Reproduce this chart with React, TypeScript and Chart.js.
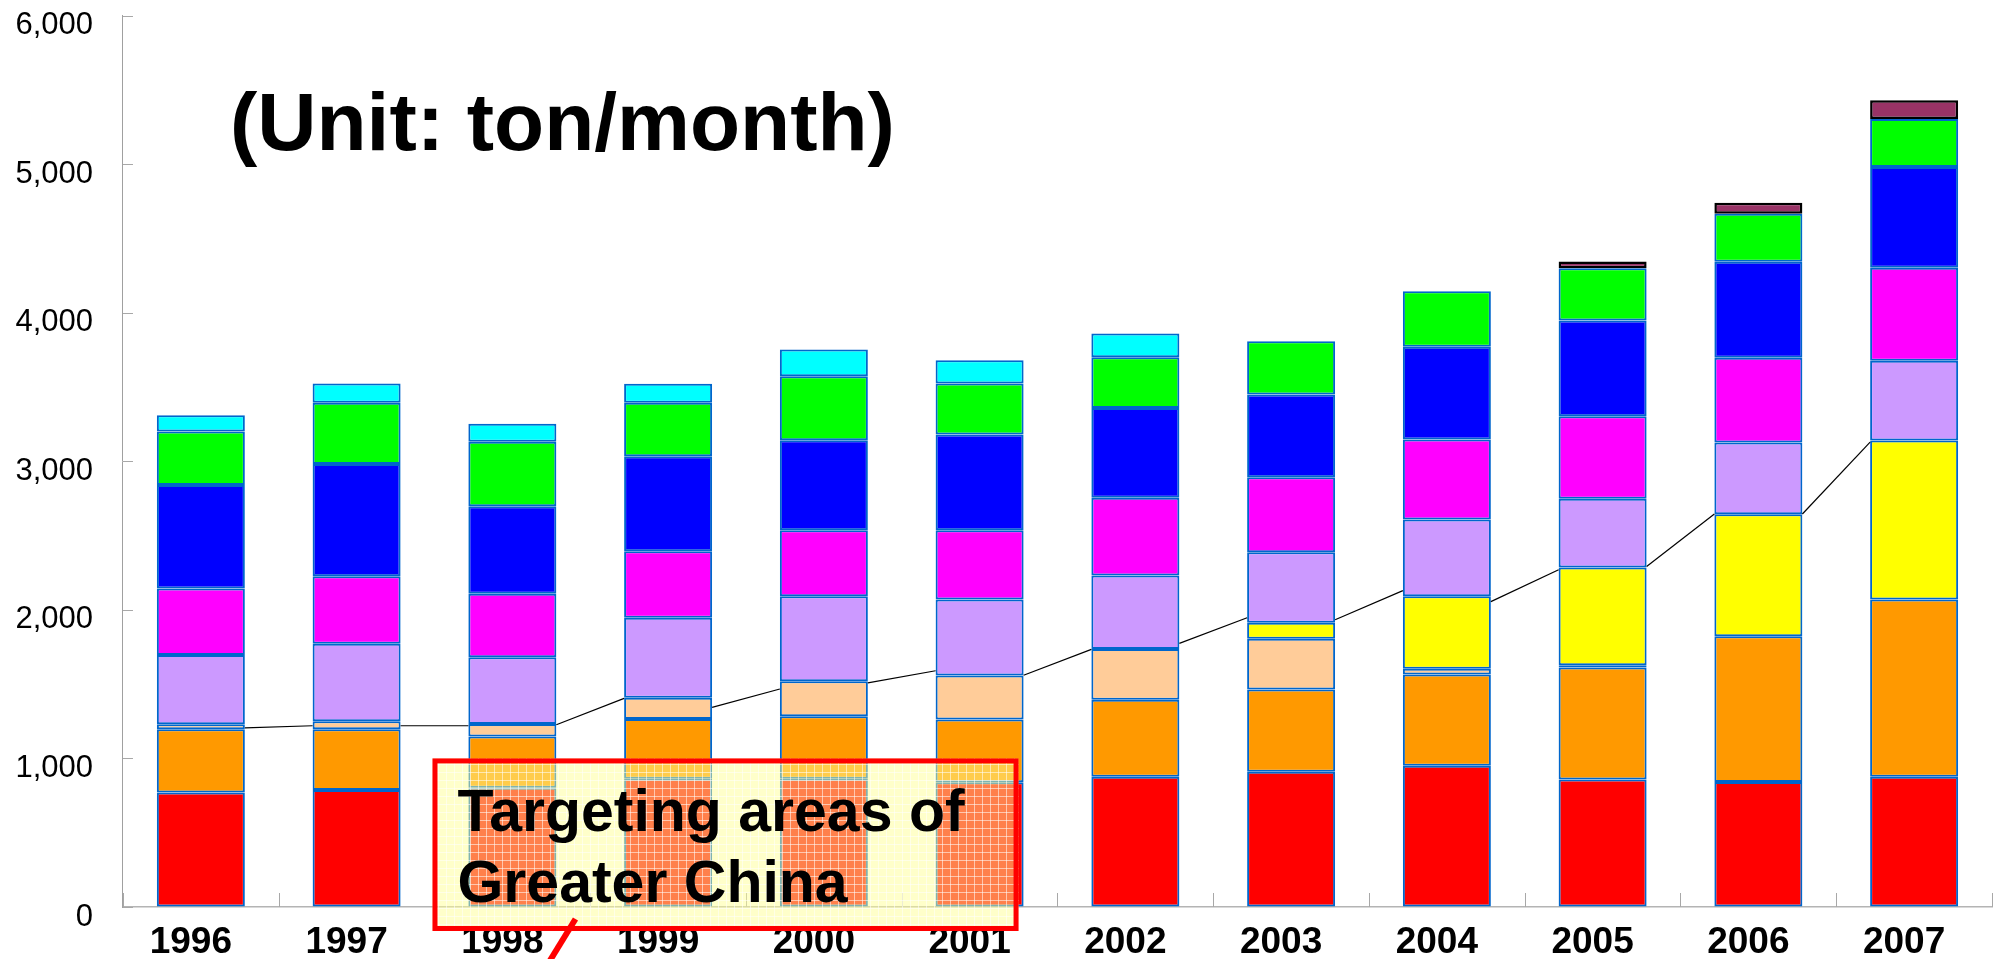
import React, { useEffect, useRef } from 'react';
import { Chart, registerables } from 'chart.js';

Chart.register(...registerables);

const FONT = '"Liberation Sans", Arial, Helvetica, sans-serif';

const years = ['1996', '1997', '1998', '1999', '2000', '2001', '2002', '2003', '2004', '2005', '2006', '2007'];

const redVals = [770, 788, 802, 863, 863, 840, 876, 910, 950, 858, 842, 876];
const orangeVals = [427, 409, 345, 402, 421, 422, 518, 554, 615, 754, 980, 1193];
const peachVals = [33, 53, 84, 143, 236, 296, 342, 341, 38, 15, null, null];
const yellowVals = [null, null, null, null, null, null, null, 108, 489, 658, 821, 1070];
const lavenderVals = [466, 521, 450, 538, 572, 511, 495, 475, 516, 462, 484, 538];
const magentaVals = [448, 455, 427, 448, 444, 467, 523, 505, 538, 556, 569, 625];
const blueVals = [696, 756, 589, 640, 605, 644, 605, 556, 624, 644, 647, 679];
const greenVals = [360, 411, 434, 359, 431, 343, 341, 359, 374, 352, 322, 323];
const cyanVals = [110, 130, 121, 128, 180, 157, 159, null, null, null, null, null];
const maroonVals = [null, null, null, null, null, null, null, null, null, 45, 74, 125];

// thin black connector line: value at right edge of bar i -> value at left edge of bar i+1
const connectorFrom = [1205, 1220, 1227, 1344, 1508, 1560, 1774, 1933, 2055, 2292, 2645];
const connectorTo = [1220, 1220, 1404, 1467, 1590, 1734, 1947, 2129, 2270, 2645, 3129];

const yTicks = [0, 1000, 2000, 3000, 4000, 5000, 6000];

const unitText = '(Unit: ton/month)';
const noteLines = ['Targeting areas of', 'Greater China'];

const seriesDefs = [
  { label: 'red', data: redVals, color: '#FF0000', border: '#0066CC' },
  { label: 'orange', data: orangeVals, color: '#FF9900', border: '#0066CC' },
  { label: 'peach', data: peachVals, color: '#FFCC99', border: '#0066CC' },
  { label: 'yellow', data: yellowVals, color: '#FFFF00', border: '#0066CC' },
  { label: 'lavender', data: lavenderVals, color: '#CC99FF', border: '#0066CC' },
  { label: 'magenta', data: magentaVals, color: '#FF00FF', border: '#0066CC' },
  { label: 'blue', data: blueVals, color: '#0000FF', border: '#0066CC' },
  { label: 'green', data: greenVals, color: '#00FF00', border: '#0066CC' },
  { label: 'cyan', data: cyanVals, color: '#00FFFF', border: '#0066CC' },
  { label: 'maroon', data: maroonVals, color: '#993366', border: '#000000' },
];

const overlayPlugin = {
  id: 'overlay',
  beforeDatasetsDraw(chart: any) {
    // inward tick marks (Excel style)
    const { ctx, chartArea } = chart;
    const xs = chart.scales.x;
    const ys = chart.scales.y;
    ctx.save();
    ctx.strokeStyle = '#A8A8A8';
    ctx.lineWidth = 1;
    ctx.beginPath();
    ys.ticks.forEach((t: any) => {
      const py = Math.round(ys.getPixelForValue(t.value)) + 0.5;
      ctx.moveTo(chartArea.left, py);
      ctx.lineTo(chartArea.left + 10, py);
    });
    for (let i = 0; i <= years.length; i++) {
      const px = Math.round(xs.getPixelForValue(i - 0.5)) + 0.5;
      ctx.moveTo(px, chartArea.bottom);
      ctx.lineTo(px, chartArea.bottom - 14);
    }
    ctx.stroke();
    ctx.restore();
  },
  afterDatasetsDraw(chart: any) {
    const ctx = chart.ctx;
    const y = chart.scales.y;
    const meta = chart.getDatasetMeta(0);
    ctx.save();
    ctx.strokeStyle = '#000000';
    ctx.lineWidth = 1.2;
    for (let i = 0; i < connectorFrom.length; i++) {
      const a = meta.data[i];
      const b = meta.data[i + 1];
      if (!a || !b) continue;
      const x1 = a.x + a.width / 2;
      const x2 = b.x - b.width / 2;
      ctx.beginPath();
      ctx.moveTo(x1, y.getPixelForValue(connectorFrom[i]));
      ctx.lineTo(x2, y.getPixelForValue(connectorTo[i]));
      ctx.stroke();
    }
    ctx.restore();
  },
  afterDraw(chart: any) {
    const ctx = chart.ctx;
    const xs = chart.scales.x;
    const ys = chart.scales.y;
    ctx.save();
    // unit title
    ctx.fillStyle = '#000000';
    ctx.textAlign = 'left';
    ctx.textBaseline = 'alphabetic';
    ctx.font = `bold 82px ${FONT}`;
    ctx.fillText(unitText, 230, 150);

    // annotation box
    const left = xs.getPixelForValue(1.5) - 2;
    const right = xs.getPixelForValue(5.25);
    const top = ys.getPixelForValue(1000);
    const bottom = chart.height - 28;
    ctx.fillStyle = 'rgba(255,255,150,0.5)';
    ctx.fillRect(left, top, right - left, bottom - top);
    ctx.strokeStyle = 'rgba(255,255,255,0.55)';
    ctx.lineWidth = 1;
    ctx.beginPath();
    for (let gx = left + 6; gx < right; gx += 8) {
      ctx.moveTo(Math.round(gx) + 0.5, top);
      ctx.lineTo(Math.round(gx) + 0.5, bottom);
    }
    for (let gy = top + 6; gy < bottom; gy += 8) {
      ctx.moveTo(left, Math.round(gy) + 0.5);
      ctx.lineTo(right, Math.round(gy) + 0.5);
    }
    ctx.stroke();
    ctx.strokeStyle = '#FF0000';
    ctx.lineWidth = 5;
    ctx.strokeRect(left + 2.5, top + 2.5, right - left - 5, bottom - top - 5);

    ctx.fillStyle = '#000000';
    ctx.font = `bold 59px ${FONT}`;
    ctx.fillText(noteLines[0], left + 25, top + 73);
    ctx.fillText(noteLines[1], left + 25, top + 144);

    // callout stroke below the box
    ctx.strokeStyle = '#FF0000';
    ctx.lineWidth = 6;
    ctx.beginPath();
    ctx.moveTo(left + 143, bottom - 12);
    ctx.lineTo(left + 116, chart.height + 4);
    ctx.stroke();
    ctx.restore();
  },
};

export default function App() {
  const canvasRef = useRef<HTMLCanvasElement>(null);

  useEffect(() => {
    document.body.style.margin = '0';
    const canvas = canvasRef.current;
    if (!canvas) return;
    const chart = new Chart(canvas, {
      type: 'bar',
      data: {
        labels: years,
        datasets: seriesDefs.map((s) => ({
          label: s.label,
          data: s.data as any,
          backgroundColor: s.color,
          borderColor: s.border,
          borderWidth: s.label === 'maroon' ? 2.5 : 2,
          borderSkipped: false,
          barPercentage: 0.565,
          categoryPercentage: 1,
        })),
      },
      options: {
        responsive: false,
        maintainAspectRatio: false,
        animation: false,
        devicePixelRatio: 1,
        layout: { padding: { left: 15.4, right: 11, top: 15.5, bottom: -2.5 } },
        plugins: {
          legend: { display: false },
          tooltip: { enabled: false },
          title: { display: false },
        },
        scales: {
          x: {
            stacked: true,
            offset: true,
            grid: {
              display: true,
              offset: true,
              drawOnChartArea: false,
              drawTicks: true,
              tickLength: 17.5,
              tickColor: 'rgba(0,0,0,0)',
            },
            border: { display: true, color: '#B4B4B4', width: 1.5 },
            ticks: {
              color: '#000000',
              font: { family: FONT, size: 37, weight: 'bold', lineHeight: 1 },
              padding: 0,
              labelOffset: -10,
              maxRotation: 0,
              autoSkip: false,
            },
          },
          y: {
            stacked: true,
            min: 0,
            max: 6000,
            afterBuildTicks: (axis: any) => {
              axis.ticks = yTicks.map((v) => ({ value: v }));
            },
            grid: {
              display: true,
              drawOnChartArea: false,
              drawTicks: true,
              tickLength: 30,
              tickColor: 'rgba(0,0,0,0)',
            },
            border: { display: true, color: '#A0A0A0', width: 1 },
            ticks: {
              color: '#000000',
              font: { family: FONT, size: 31, lineHeight: 1 },
              padding: 0,
              labelOffset: 10,
              callback: (v: any) => Number(v).toLocaleString('en-US'),
            },
          },
        },
      },
      plugins: [overlayPlugin],
    });
    return () => chart.destroy();
  }, []);

  return (
    <div style={{ position: 'fixed', left: 0, top: 0, width: 2003, height: 959, background: '#ffffff', overflow: 'hidden' }}>
      <canvas ref={canvasRef} width={2003} height={959} style={{ display: 'block', width: 2003, height: 959 }} />
    </div>
  );
}
